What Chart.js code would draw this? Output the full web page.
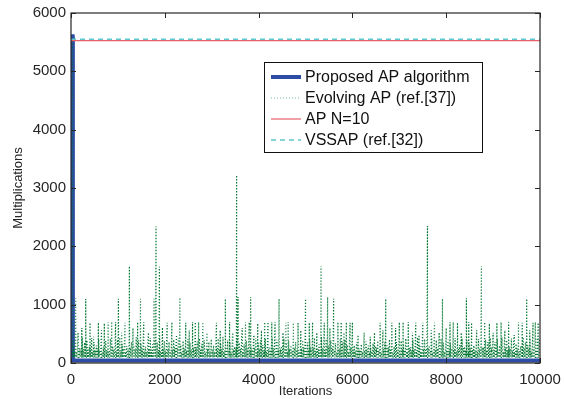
<!DOCTYPE html>
<html>
<head>
<meta charset="utf-8">
<script src="https://cdn.jsdelivr.net/npm/chart.js@4.4.1/dist/chart.umd.min.js"></script>
<style>
html,body{margin:0;padding:0;background:#fff;}
#wrap{width:564px;height:399px;position:relative;}
</style>
</head>
<body>
<div id="wrap"><canvas id="c" width="564" height="399"></canvas></div>
<script>
// ---- data ----
const xTickValues = [0, 2000, 4000, 6000, 8000, 10000];
const yTickValues = [0, 1000, 2000, 3000, 4000, 5000, 6000];

const seriesNames = ["Proposed AP algorithm", "Evolving AP (ref.[37])", "AP N=10", "VSSAP (ref.[32])"];

const proposedIter = [0, 35, 40, 10000];
const proposedMult = [5600, 5600, 45, 45];

const apN10Iter = [0, 10000];
const apN10Mult = [5525, 5525];

const vssapIter = [0, 10000];
const vssapMult = [5550, 5550];

const evolvingStartIter = [0, 36, 38];
const evolvingStartMult = [5550, 5550, 100];
const evolvingFloor = 95;
// upper edge of the dense band, one value per 50 iterations
const evolvingBandTop = [
  380,420,300,260,440,350,390,280,430,360,300,410,340,270,380,330,420,290,360,400,
  440,330,380,290,420,360,300,440,390,340,410,280,370,430,320,400,350,450,300,380,
  420,360,290,400,340,430,310,380,270,410,350,440,300,370,420,330,390,280,360,410,
  300,380,420,340,450,310,390,360,430,280,400,350,440,320,380,410,290,370,430,340,
  390,310,420,360,280,440,330,400,370,290,420,350,380,300,440,360,410,270,390,430,
  350,400,290,430,380,320,450,360,410,300,390,440,340,280,420,370,400,310,430,360,
  300,360,250,320,280,370,300,260,340,290,380,310,270,350,300,400,330,280,360,310,
  380,300,420,350,270,400,330,440,290,370,410,340,300,430,360,390,280,420,350,310,
  400,340,290,430,370,310,420,280,390,350,440,300,380,410,330,270,400,360,430,320,
  360,410,300,440,350,390,280,420,370,330,400,290,440,360,310,420,380,340,430,400
];
// dark lower part of the band, one value per 50 iterations
const evolvingBandMid = [
  220,190,250,210,240,200,230,260,190,220,250,210,180,240,220,200,260,230,190,240,
  210,250,190,230,260,200,240,180,220,250,210,190,240,230,200,260,220,190,250,210,
  240,200,230,190,260,220,180,250,210,240,230,190,260,200,220,250,180,240,210,230,
  190,260,220,240,200,250,210,180,230,260,200,240,190,220,250,210,230,260,190,240,
  250,210,190,240,220,260,200,230,180,250,220,190,240,210,260,230,200,250,190,220,
  230,190,260,210,240,200,250,220,190,230,260,210,180,240,200,250,220,190,260,230,
  200,180,220,190,210,240,180,200,230,190,210,180,240,200,190,220,180,210,230,190,
  240,220,190,260,210,230,200,250,190,240,220,260,210,180,230,250,200,240,190,220,
  210,250,230,190,240,200,260,220,180,250,230,210,190,240,260,200,220,250,190,230,
  250,200,230,190,260,220,240,210,180,250,200,230,260,190,240,210,250,220,190,240
];
// isolated tall spikes
const evolvingSpikeIter = [100,313,405,583,710,867,950,1010,1244,1420,1480,1770,1812,1884,2050,2320,2445,2650,2720,2810,
  3290,3530,3560,3800,3830,3980,4200,4280,4350,4435,4630,4740,4840,5000,5080,5330,5470,5600,5690,5760,5870,6000,
  6590,6710,6840,7080,7190,7500,7600,7920,8080,8240,8430,8540,8750,8920,9170,9540,9715,9850,9960];
const evolvingSpikeMult = [1110,1100,690,690,680,710,700,1100,1660,700,1100,1100,2340,1650,690,1120,690,700,700,700,
  1100,3220,1130,700,1130,680,700,700,700,1100,700,690,690,1100,690,1660,1130,1100,700,700,700,700,
  690,1100,690,700,700,690,2350,1100,700,690,1110,690,1660,680,700,700,1100,690,690];
// medium spikes rising out of the band
const evolvingMidSpikeIter = [150,230,480,650,790,1080,1150,1320,1550,1650,1950,2150,2250,2520,2590,2900,3100,3180,3380,3450,
  3650,3720,3900,4060,4130,4520,4580,4900,5150,5240,5400,5520,5820,5950,6120,6250,6380,6470,6650,6920,
  7000,7280,7350,7420,7680,7750,7850,8000,8150,8320,8480,8650,8820,9000,9080,9250,9330,9450,9620,9780,9900];
const evolvingMidSpikeMult = [520,600,450,560,700,520,690,600,700,520,610,700,480,560,700,520,690,560,700,520,
  600,700,480,560,700,520,690,560,700,520,690,600,520,690,480,520,450,520,560,600,
  700,520,690,480,560,690,520,600,700,520,700,560,700,520,690,560,700,480,690,560,700];

// ---- build point lists ----
function pts(xs, ys){ return xs.map((x,i)=>({x:x, y:ys[i]})); }
const evolvingPts = pts(evolvingStartIter, evolvingStartMult);
evolvingBandTop.forEach((v,i)=>{
  evolvingPts.push({x: 50*i + 40, y: v});
  if (i < evolvingBandTop.length - 1) {
    evolvingPts.push({x: 50*i + 52, y: evolvingFloor});
    evolvingPts.push({x: 50*i + 64, y: evolvingBandMid[i]});
    evolvingPts.push({x: 50*i + 76, y: evolvingFloor});
  }
});
function addSpikes(xs, ys){
  xs.forEach((x,i)=>{
    evolvingPts.push({x: x + 1, y: ys[i]});
    evolvingPts.push({x: x + 5, y: evolvingFloor});
  });
}
addSpikes(evolvingSpikeIter, evolvingSpikeMult);
addSpikes(evolvingMidSpikeIter, evolvingMidSpikeMult);
evolvingPts.sort((a,b)=>a.x-b.x);

const BLUE = '#2c4ca6', GREEN = 'rgb(0,118,48)', RED = '#e8606a', CYAN = '#5cc8cc';

const frameTicks = {
  id: 'frameTicks',
  afterDatasetsDraw(chart){
    const {ctx, chartArea:a, scales} = chart;
    ctx.save();
    ctx.strokeStyle = '#262626';
    ctx.lineWidth = 1.2;
    ctx.setLineDash([]);
    ctx.strokeRect(a.left, a.top, a.right - a.left, a.bottom - a.top);
    ctx.lineWidth = 1;
    const L = 5;
    xTickValues.forEach(v=>{
      const px = Math.round(scales.x.getPixelForValue(v)) + 0.5;
      ctx.beginPath();
      ctx.moveTo(px, a.bottom); ctx.lineTo(px, a.bottom - L);
      ctx.moveTo(px, a.top); ctx.lineTo(px, a.top + L);
      ctx.stroke();
    });
    yTickValues.forEach(v=>{
      const py = Math.round(scales.y.getPixelForValue(v)) + 0.5;
      ctx.beginPath();
      ctx.moveTo(a.left, py); ctx.lineTo(a.left + L, py);
      ctx.moveTo(a.right, py); ctx.lineTo(a.right - L, py);
      ctx.stroke();
    });
    ctx.restore();
  }
};

const legendBox = {
  id: 'legendBox',
  afterDraw(chart){
    const ctx = chart.ctx;
    ctx.save();
    const bx = 264.5, by = 62.5, bw = 218, bh = 90;
    ctx.fillStyle = '#fff';
    ctx.fillRect(bx, by, bw, bh);
    ctx.strokeStyle = '#111';
    ctx.lineWidth = 1;
    ctx.strokeRect(bx, by, bw, bh);
    const rows = [77, 98, 119, 140];
    const styles = [
      {c: BLUE, w: 4, d: []},
      {c: '#6fbf9a', w: 1, d: [1,2]},
      {c: RED, w: 1.2, d: []},
      {c: CYAN, w: 1.5, d: [5,4]}
    ];
    ctx.font = '16px "Liberation Sans", Arial, sans-serif';
    ctx.textBaseline = 'middle';
    ctx.fillStyle = '#111';
    rows.forEach((y,i)=>{
      const s = styles[i];
      ctx.beginPath();
      ctx.strokeStyle = s.c; ctx.lineWidth = s.w; ctx.setLineDash(s.d);
      ctx.moveTo(271, y); ctx.lineTo(301, y); ctx.stroke();
      ctx.setLineDash([]);
      ctx.fillText(seriesNames[i], 305, y + 1);
    });
    ctx.restore();
  }
};

Chart.defaults.font.family = '"Liberation Sans", Arial, sans-serif';
Chart.defaults.color = '#262626';

new Chart(document.getElementById('c'), {
  type: 'line',
  data: {
    datasets: [
      {label: seriesNames[0], data: pts(proposedIter, proposedMult), borderColor: BLUE, borderWidth: 4, pointRadius: 0, order: 4},
      {label: seriesNames[1], data: evolvingPts, borderColor: GREEN, borderWidth: 1.2, borderDash: [1,2], pointRadius: 0, order: 3},
      {label: seriesNames[2], data: pts(apN10Iter, apN10Mult), borderColor: RED, borderWidth: 1.2, pointRadius: 0, order: 2},
      {label: seriesNames[3], data: pts(vssapIter, vssapMult), borderColor: CYAN, borderWidth: 1.5, borderDash: [5,4], pointRadius: 0, order: 1}
    ]
  },
  options: {
    responsive: false,
    animation: false,
    events: [],
    layout: {padding: {left: 0, top: 13, right: 24, bottom: 0}},
    elements: {line: {tension: 0}},
    plugins: {legend: {display: false}, tooltip: {enabled: false}},
    scales: {
      x: {
        type: 'linear', min: xTickValues[0], max: xTickValues[xTickValues.length-1],
        afterBuildTicks(s){ s.ticks = xTickValues.map(v=>({value:v})); },
        ticks: {font: {size: 15}, padding: 8, maxRotation: 0, color: '#262626', callback: v => String(v)},
        grid: {display: false, drawTicks: false},
        border: {display: false},
        title: {display: true, text: 'Iterations', font: {size: 13}, padding: {top: -2, bottom: 0}, color: '#262626'},
        afterFit(s){ s.height = 36; s.paddingLeft = 0; s.paddingRight = 0; }
      },
      y: {
        type: 'linear', min: yTickValues[0], max: yTickValues[yTickValues.length-1],
        afterBuildTicks(s){ s.ticks = yTickValues.map(v=>({value:v})); },
        ticks: {font: {size: 15}, padding: 5, color: '#262626', callback: v => String(v)},
        grid: {display: false, drawTicks: false},
        border: {display: false},
        title: {display: true, text: 'Multiplications', font: {size: 13}, padding: {top: 11, bottom: 0}, color: '#262626'},
        afterFit(s){ s.width = 71; s.paddingTop = 0; s.paddingBottom = 0; }
      }
    }
  },
  plugins: [frameTicks, legendBox]
});
</script>
</body>
</html>
